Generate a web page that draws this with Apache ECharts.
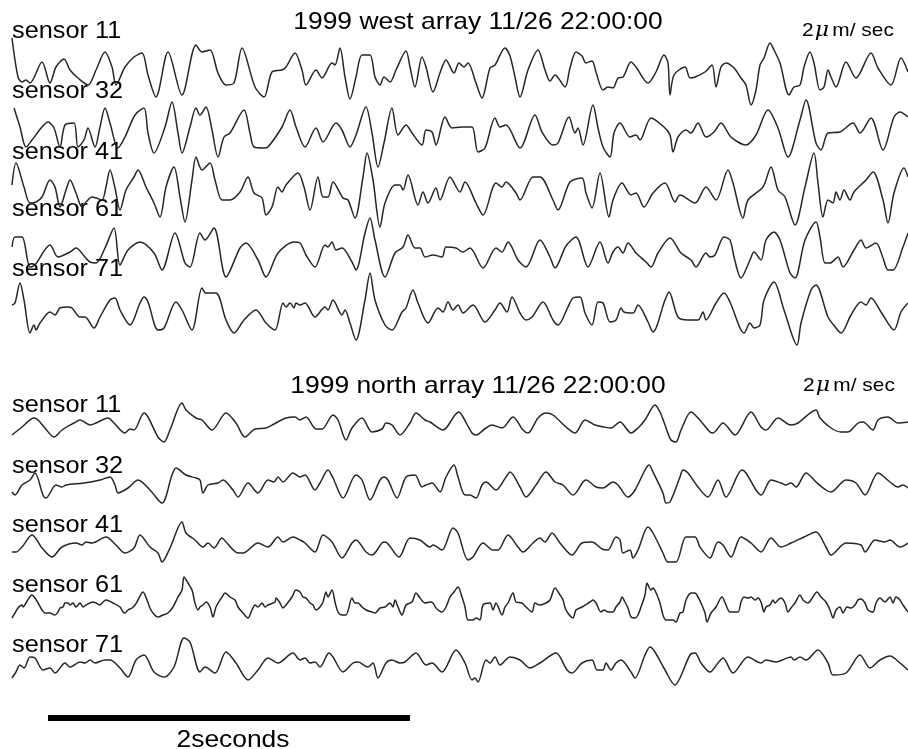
<!DOCTYPE html>
<html>
<head>
<meta charset="utf-8">
<script src="https://cdn.jsdelivr.net/npm/echarts@6/dist/echarts.min.js"></script>
<style>
  html, body { margin: 0; padding: 0; background: #ffffff; }
  #chart { width: 908px; height: 749px; }
</style>
</head>
<body>
<div id="chart"></div>
<script>
// Velocity seismograms, 1999-11-26 22:00:00, two sensor arrays.
// Each record: [sample index, velocity amplitude]; sample rate below.
const SAMPLE_RATE = 90.5;          // samples per second
const RECORD_SAMPLES = 454;        // samples shown per record
const SCALE_BAR_START = 24;        // sample where the time bar starts
const SCALE_BAR_SECONDS = 2;

const sensorNames = ['sensor 11', 'sensor 32', 'sensor 41', 'sensor 61', 'sensor 71'];
const arrayTitles = ['1999 west array 11/26 22:00:00', '1999 north array 11/26 22:00:00'];
const ampUnit = ['2', 'μ', 'm/ sec'];

// ---- west array ----
const west11 = [[6,34],[9,-5],[11,-10],[13,-8],[15,-11],[21,10],[25,-11],[28,5],[32,13],[35,2],[39,-6],[44,-13],[48,2],[52.5,20],[56,5],[58,-13],[62.5,5],[67,15],[71,19],[74,-3],[78,-25],[84,20],[91,-23],[98,27],[101,20],[105,22],[109,-1],[113,-13],[117,-11],[121,24],[127.5,-15],[132,-25],[136,0],[141,2],[143,5],[147.5,19],
[151,2],[153,-13],[158,2],[161,-6],[166,9],[167.5,7],[170,24],[172.5,-5],[175,-27],[178,-5],[181,17],[185,17],[187.5,-5],[190,-13],[192,-5],[195,-10],[198,2],[203,21],[205,5],[207.5,-15],[211,15],[213,5],[216.5,-20],[220,-1],[223,12],[227,-1],[229.5,9],[232,5],[234,9],[238,-11],[241,-26],[245,4],[247.5,7],[252.5,24],[255,16],[257.5,-5],[260,-25],[264,2],[269,22],[272.5,2],[275,-9],[277.5,-3],[282.5,-15],[285,4],[288,20],[291,16],[293,9],[296,11],[298,0],
[301.5,-18],[304,-15],[306.5,-16],[309,-6],[311.5,-5],[315.5,10],[318,5],[324,-11],[328,0],[332,17],[334,9],[335,-23],[337,-3],[342.5,5],[345,-6],[347.5,-5],[352.5,0],[356,7],[358,-15],[360.5,5],[363,9],[367,4],[370.5,-6],[373,-13],[375.5,-33],[378,-18],[380,7],[382,14],[385,29],[387,22],[390,9],[394.5,-23],[397,-15],[400,-13],[402,5],[405,20],[407,9],[410,-18],[412,-15],[414,2],[415.5,-5],[418,-15],[423,10],[428,-6],[435.5,19],[439,4],[445.5,-13],[450.5,14],[454,0]];

const west32 = [[7,22],[10,3],[13,-17],[16,-10],[21,3],[24,8],[27,2],[30,-17],[32.5,5],[37,7],[39,-17],[42,-10],[44,2],[47.5,-17],[50,3],[52.5,22],[55,7],[59,-18],[62.5,-7],[67.5,15],[72,22],[74,-3],[77,-23],[82.5,3],[86,28],[89,-3],[91,-23],[95,3],[98,22],[100,15],[103,23],[106,0],[109,-27],[112,-7],[115,-3],[122,20],[125,-3],[127,-17],[132,-18],[134,-17],[141,3],[145,20],[148,3],
[152.5,-17],[158,2],[161.5,-12],[168,7],[171,0],[175,-17],[178,-5],[183,23],[186,-3],[189,-37],[192,-13],[196,22],[199,-5],[203,5],[206,-3],[211,-15],[213,0],[216,-2],[218,-15],[222.5,13],[226,2],[231,3],[236,3],[239,-22],[242.5,-18],[247.5,12],[250,3],[253,5],[260,-18],[267.5,15],[271,-2],[276.5,-15],[279,-13],[284.5,13],[287.5,-3],[289,2],[291.5,-15],[296.5,25],[299,2],
[301.5,-17],[305,-27],[307,-3],[310,7],[315,-7],[318,-5],[320,-10],[325.5,12],[332,3],[335,-5],[336.5,-22],[339,-7],[343,0],[345.5,-3],[349,7],[353,-7],[357,-2],[360.5,7],[365.5,-7],[373,-15],[378,-5],[384,20],[389,2],[394,-27],[400,10],[403,30],[408,-13],[410.5,-20],[414,-3],[420,-2],[426.5,7],[430,-3],[435.5,12],[441.5,-20],[447,13],[450,18],[454,13]];

const west41 = [[6,3],[8,25],[12,1],[15,-15],[18,-14],[21,-9],[25,8],[27.5,1],[30,-19],[33,-2],[35,8],[38,-5],[41,-19],[43,-14],[46,-9],[48,-10],[51,-12],[53,1],[55,18],[57.5,0],[60,-22],[63,-2],[67,11],[69,18],[73,1],[77,-15],[80,-29],[83,1],[87,21],[90,-9],[92.5,-34],[96,8],[98,31],[101,18],[105,25],[107.5,8],[111,-12],[115,-12],[120,-4],[124,11],[127,-5],[131,-10],[133,-27],[136,-19],[139,1],[141,-4],[143,3],[149,15],
[152,1],[155,-22],[159,11],[161.5,-9],[164,-9],[166.5,6],[171.5,-10],[174,-12],[177.5,-30],[181.5,11],[183.5,35],[186.5,8],[190,-39],[192.5,-15],[197.5,3],[200,3],[201.5,-2],[204,13],[209,-17],[211.5,-4],[214,-15],[218,0],[220,-12],[225,11],[230,-4],[232.5,6],[238,-15],[241.5,-27],[248,5],[251,1],[253,6],[258,-5],[260,-12],[266.5,11],[270,11],[276.5,-12],[279,-22],[285,6],[291,10],[293,-5],[296,-20],[300,15],
[304.5,-29],[306.5,-12],[311,5],[315.5,-7],[318,-5],[322,-19],[326.5,-5],[332.5,5],[337.5,-14],[340,-7],[347.5,-15],[353,1],[358,-12],[364,18],[366.5,5],[371.5,-30],[374,-12],[381.5,1],[385.5,21],[389,-2],[392.5,-9],[397.5,-37],[402.5,1],[407,35],[409,5],[411.5,-29],[414,-12],[416.5,-15],[418,-4],[420,-12],[422,-2],[425,-12],[427,-4],[433,8],[436.5,16],[441.5,-12],[444,-35],[447,-5],[452,20],[454,11]];

const west61 = [[6,-1],[7.5,9],[11,9],[15,-21],[17.5,-19],[25,1],[29,-11],[35,-6],[38,-2],[42.5,-11],[45,-16],[48,-17],[52.5,-2],[57,18],[60,-19],[64,-4],[70,4],[77,-7],[81,-24],[87.5,13],[92.5,-17],[95,-21],[100,13],[102.5,6],[107,18],[113,-31],[120,-2],[123,3],[129,-14],[133,-31],[139,-7],[147,4],
[150,3],[153,-9],[157.5,-21],[162.5,1],[164,-1],[166,4],[168,-4],[171,-2],[176,-16],[178,-24],[182.5,13],[185,28],[187.5,6],[192.5,-31],[197.5,-7],[201.5,-1],[204,11],[207.5,-2],[210,-2],[212.5,-11],[216.5,-9],[221,-11],[223,-1],[228,-2],[231.5,-6],[235,-2],[241.5,-22],[248,-2],[251,-6],[254,4],[259,-14],[263,-21],[270,6],[275,-11],[277.5,-22],[283,0],[288,9],[294,-21],[300,4],
[304,-17],[306.5,-6],[309,-1],[311.5,-7],[314,3],[318,-7],[323,-16],[325.5,-21],[329,-7],[335,8],[340.5,-7],[345.5,-14],[348,-21],[353,-7],[355,-11],[357.5,-9],[362,9],[365,6],[367,-11],[370.5,-32],[375,-14],[377,-6],[380.5,-14],[383,6],[387,14],[390,6],[395,-27],[397.5,-32],[402.5,6],[408,24],[410,9],[412.5,-17],[415,-17],[419,-11],[421.5,-21],[427,-4],[430.5,6],[433,-2],[438,3],[441.5,-12],[444,-24],[446.5,-24],[451.5,-1],[454,13]];

const west71 = [[6,0],[7.5,2],[10,22],[12,5],[15,-28],[17,-20],[18,-25],[20,-18],[25,-7],[27.5,-10],[30,-3],[34,-2],[36,-3],[40,-12],[42.5,-12],[47,-23],[50,-12],[55,5],[57.5,7],[60,-5],[65,-20],[70,2],[72,8],[74,3],[79,-25],[82,-23],[88,3],[91,-5],[96,-25],[101,17],[103,12],[108,12],[113,-15],[117,-28],[122,-15],[128,-5],[133,-18],[137.5,-25],[141.5,2],[143,-2],[145,2],[147,-3],[148,2],
[150,0],[152.5,2],[157.5,-12],[162.5,-2],[164,-5],[166.5,5],[171,-10],[172.5,-5],[175,-18],[178,-35],[182.5,5],[185,32],[187.5,5],[192.5,-20],[196,-25],[201,-7],[203,-3],[206.5,15],[209,2],[214,-18],[219,-3],[221.5,-7],[224,3],[226.5,-5],[229,0],[231.5,-8],[236.5,0],[242.5,-17],[247.5,-5],[250,2],[253.5,-7],[256,8],[260,-8],[263,-15],[266,-12],[271.5,3],[276.5,-15],[279,-20],[284,-2],[286.5,7],[290,8],[292.5,-8],[296,-20],
[299,3],[301.5,2],[305,-17],[308,-15],[310.5,-3],[312,-7],[316.5,-8],[319,0],[324,-17],[326.5,-27],[332.5,5],[334.5,13],[339,-12],[344,-15],[349,-15],[351.5,-7],[353,-15],[358,2],[362,12],[365,3],[370,-23],[372,-28],[375,-18],[377,-23],[380,-20],[382,5],[387,23],[392,-5],[398.5,-40],[400.5,-18],[405.5,15],[408,20],[414,-12],[418,-23],[420.5,-28],[425.5,-10],[430.5,3],[433,0],[435.5,7],[440.5,-7],[447,-25],[450.5,-7],[454,2]];

// ---- north array ----
const north11 = [[6,-7],[11,1],[17,10],[19,8],[22.5,0],[27,-9],[31,-2],[37,5],[40,8],[45,3],[48,5],[54,10],[57,5],[62.5,-5],[65,-1],[67,-2],[72,15],[74,11],[79,-9],[82,-14],[85,-2],[91,25],[93,18],[98,10],[101,8],[106,-2],[113,15],[118,5],[122.5,-9],[127.5,-1],[133,0],[137,4],[143,10],[147.5,11],
[150,8],[153,11],[158,-1],[161,-1],[166.5,13],[169,8],[173,-12],[176,0],[181,10],[186,-4],[191,-1],[193,5],[196,3],[200,-7],[205,5],[208,15],[212.5,8],[215,6],[221.5,-2],[227.5,13],[229.5,16],[231.5,11],[236,-5],[238,-7],[243,0],[246,3],[251,0],[256.5,11],[261.5,-2],[264,-5],[269,10],[273,15],[276.5,13],[283,1],[287.5,-5],[292.5,8],[297.5,3],
[302,1],[305.5,0],[310,6],[315.5,-5],[319,0],[322.5,8],[327.5,23],[330,16],[332.5,3],[335.5,-12],[338,-14],[340.5,-2],[345.5,16],[349,10],[355,-4],[356.5,-5],[361.5,5],[367.5,-7],[375.5,16],[380.5,1],[383,-2],[389,10],[395.5,3],[399,5],[408,18],[410,10],[415.5,0],[420.5,-4],[424,-4],[429,5],[431.5,6],[436.5,-2],[439,8],[444,11],[449,5],[454,6]];

const north32 = [[6,-5],[7.5,-8],[11,2],[15,7],[17.5,14],[21.5,-8],[23,-11],[28,2],[31,0],[33,2],[42,4],[50,7],[55,10],[57.5,2],[59,-6],[64,-1],[69,7],[75,-3],[81,-16],[86,12],[88,19],[93,12],[98,9],[100,7],[101.5,-6],[104,2],[109,4],[111.5,7],[116.5,-3],[119,-10],[124,4],[129,-6],[134,7],[137,5],[139,10],[141.5,5],[146.5,14],
[150,10],[152.5,12],[157.5,-3],[160,4],[164,17],[166.5,9],[171.5,-11],[176.5,9],[178,12],[181,7],[185,-13],[190,7],[192,10],[194,7],[198.5,-11],[203,10],[207.5,12],[211,0],[213,2],[216,4],[220,-5],[223,10],[227,22],[229,10],[232.5,-8],[235,-8],[238,-11],[241,2],[243,5],[248,-3],[253,10],[255,15],[260,0],[263,-10],[268,2],[273,15],[277.5,5],[281.5,2],[286.5,-8],[291.5,5],[293,7],[298,0],
[301.5,-1],[306.5,5],[309,2],[314,-10],[317.5,-3],[322.5,17],[324.5,22],[326.5,15],[331.5,-6],[333,-16],[335,-15],[340,10],[341.5,17],[344,14],[349,0],[354,-10],[359,7],[363,-10],[371,17],[373,14],[378,-3],[380.5,-8],[385.5,7],[390.5,4],[393,2],[395.5,4],[398,0],[403,14],[408,5],[413,-3],[415.5,-5],[423,7],[428,4],[432.5,-8],[439,14],[445,5],[449,0],[451.5,2],[454,-1]];

const north41 = [[6,-7],[8,-7],[11,-2],[16,10],[21,-3],[26,-12],[31,-2],[38,2],[41,0],[43,3],[46,2],[53,8],[58,0],[62.5,-8],[67,-3],[70,10],[75,-2],[79,-8],[81,-17],[85,-3],[91,23],[93,12],[97.5,5],[101.5,-2],[104,2],[107,-3],[111,7],[113,3],[119,-8],[121.5,-8],[129,2],[134,-2],[139,8],[141.5,3],[146.5,8],
[150,5],[152.5,2],[157.5,-7],[161.5,10],[166,3],[171,-13],[176,2],[178,5],[183,-7],[186,-10],[191,2],[192.5,3],[199.5,-12],[205,7],[210,5],[215,-2],[216.5,0],[221,-5],[226.5,17],[229,12],[234,-15],[236.5,-12],[241.5,2],[246.5,-5],[249,-5],[254,10],[259,-2],[261.5,-7],[266.5,2],[270,7],[272.5,3],[276,12],[280,2],[286,-10],[291,2],[296,3],
[301,-4],[304,-5],[308,8],[310,5],[311.5,-8],[315,-5],[316.5,-13],[319,-5],[324,18],[326.5,12],[331.5,-8],[334,-17],[338,-17],[343,8],[347.5,8],[350,-2],[355,-13],[359,3],[361.5,0],[365.5,-12],[370.5,8],[375.5,2],[380.5,-7],[385.5,7],[390.5,-2],[395.5,2],[402,8],[408,13],[413,-2],[415.5,-10],[423,2],[430.5,0],[432.5,-7],[437.5,5],[442.5,3],[445,5],[450,-2],[454,2]];

const north61 = [[6,-15],[7.5,-10],[9,-5],[11,-2],[11.5,-4],[13,0],[16,8],[17.5,5],[19,0],[21,-7],[22.5,-10],[25,-10],[27.5,-12],[29,-9],[30,-5],[31.5,-4],[32.5,0],[34,0],[35,-2],[36.5,0],[38,-4],[40,0],[41.5,-4],[43,-2],[46.5,1],[48,0],[50,-2],[51.5,1],[53,3],[56.5,0],[60,-4],[61.5,-9],[62.5,-10],[64,-7],[66,-5],[67.5,-2],[69,3],[71.5,11],[73.5,3],[75,-5],[76.5,-10],[79,-14],[81.5,-12],[84,-10],[86.5,-4],[89,6],[91,13],[92,26],[94,20],[96,13],[97.5,0],[99,-7],[100,-4],[101.5,-2],[103,1],[105,-4],[106.5,-14],[108,-4],[111,6],[112.5,10],[115,6],[117.5,3],[119,-4],[121.5,-10],[124,-15],[126,-7],[127.5,-2],[129,-4],[131,0],[132.5,-4],[134,-2],[137.5,1],[138,5],[140,0],[141.5,-5],[143,-2],[146,6],[148,13],
[150,11],[151.5,6],[153,5],[155,0],[156.5,-2],[158,-7],[160,-4],[161.5,1],[163,11],[164,6],[166,13],[167.5,1],[169,-9],[171,-12],[173,-12],[176,5],[177.5,0],[179,0],[181,-4],[183,-7],[186,-9],[187.5,-10],[190,-5],[192.5,-4],[195,0],[196.5,-4],[197.5,3],[199,-4],[201,-12],[203,-2],[206,1],[208,10],[210,5],[212.5,0],[215,1],[216.5,0],[218,-5],[221,-9],[223,-4],[225,6],[227,11],[229,16],[231,6],[232.5,-4],[234,-17],[236.5,-17],[238,-15],[240,-17],[241.5,-2],[245,0],[246.5,-7],[248,0],[251,-12],[252.5,-4],[254,0],[256.5,10],[258,1],[261,0],[263,-4],[266,-9],[267.5,0],[270,-2],[273,0],[275,3],[277.5,15],[280,8],[281.5,3],[283,-7],[286.5,-15],[288,-7],[291,-4],[295,1],[296.5,3],[298,0],
[300.5,-9],[302,-7],[304,-9],[306.5,-9],[308,-4],[310,1],[311,6],[312.5,1],[314,-5],[315.5,-14],[317.5,-15],[319,-12],[320.5,-4],[322.5,8],[323.5,20],[325.5,13],[326.5,15],[328.5,8],[330,0],[331.5,-12],[333,-17],[336.5,-17],[338,-19],[340,-10],[341.5,-9],[343,3],[345.5,10],[347.5,10],[349,6],[350.5,0],[352.5,-10],[353.5,-19],[355.5,-10],[358,-4],[361,6],[363,-2],[365,-9],[369,-9],[370.5,1],[372,6],[374,5],[375.5,6],[377.5,3],[379,5],[380.5,1],[382,-9],[383,-4],[385,-2],[386.5,3],[387.5,0],[389,3],[390.5,5],[392.5,0],[394,-9],[395.5,-5],[397.5,0],[400,8],[401.5,3],[404,0],[405.5,3],[408.5,11],[410.5,6],[413,1],[415,-7],[416.5,-15],[418,-7],[420,-4],[421.5,-10],[423.5,-4],[425.5,-5],[427.5,-2],[429,3],[430.5,4],[432.5,0],[434,-7],[436.5,-9],[438,0],[440,5],[442.5,1],[445,6],[446.5,0],[448,6],[450,3],[451.5,-2],[454,-9]];

const north71 = [[6,-16],[8,-10],[10,-3],[12,-6],[15,5],[17.5,4],[21.5,-8],[25,-6],[27.5,-11],[32.5,-1],[35,-5],[40,0],[42.5,-1],[45,2],[47.5,-1],[52.5,2],[55,2],[60,-6],[64,-15],[68,2],[72,7],[77,-10],[82,-15],[87,-5],[92,24],[95,20],[100,-10],[102.5,-5],[107.5,-11],[113,10],[118,-1],[124,-18],[129,-8],[134,4],[139,-1],[146.5,9],
[150,2],[152.5,4],[155,-1],[157.5,0],[160,-5],[164.5,9],[166.5,5],[171.5,-10],[176.5,-1],[179,0],[184,-5],[186.5,-1],[189,-16],[193,-1],[196,2],[200,-1],[202.5,0],[208,9],[213,-3],[216,-1],[221,-10],[228,12],[232.5,-1],[236,-18],[237.5,-16],[239,-20],[243,2],[245,-1],[247.5,5],[250,-3],[255,5],[260,2],[265,-6],[270,-1],[278,9],[283.5,-8],[286,-11],[291,-1],[296,2],[298.5,-8],
[301.5,-8],[303,-1],[305.5,-8],[308,-1],[310.5,2],[315.5,-10],[317.5,-16],[322.5,7],[325,15],[327.5,10],[332.5,-8],[337.5,-23],[340,-16],[345,7],[347.5,9],[350.5,-1],[355,-10],[359,-1],[361.5,4],[366.5,-11],[374,5],[380.5,-1],[383,2],[388,0],[395.5,5],[397,2],[400,5],[403,2],[409,12],[414,-1],[416.5,-13],[423,-11],[430,7],[435,-6],[440,2],[445,6],[450,-1],[454,-8]];

const westRecords = [west11, west32, west41, west61, west71];
const northRecords = [north11, north32, north41, north61, north71];

// ---- layout ----
const W = 908;
const AMP_RANGE = 60;                          // half height of each record strip (amplitude units)
const westZero = [72, 130, 188, 246, 305];     // y of each record's zero line
const northZero = [428, 487, 545, 603, 662];
const westLabelY = [32, 92, 153, 210, 270];
const northLabelY = [406, 467, 526, 586, 646];
const FONT = '"Liberation Sans", Arial, Helvetica, sans-serif';
const STRETCH = 1.1;
const INK = '#262626';

const grids = [], xAxes = [], yAxes = [], series = [];
function addStrip(zeroY, data, name) {
  const idx = grids.length;
  grids.push({ left: 0, width: W, top: zeroY - AMP_RANGE, height: AMP_RANGE * 2, show: false });
  xAxes.push({ type: 'value', gridIndex: idx, min: 0, max: RECORD_SAMPLES, show: false });
  yAxes.push({ type: 'value', gridIndex: idx, min: -AMP_RANGE, max: AMP_RANGE, show: false });
  series.push({
    name: name, type: 'line', xAxisIndex: idx, yAxisIndex: idx,
    data: data, showSymbol: false, smooth: 0.3, clip: false,
    lineStyle: { color: INK, width: 1.5 }, silent: true
  });
}
westRecords.forEach((d, i) => addStrip(westZero[i], d, 'west ' + sensorNames[i]));
northRecords.forEach((d, i) => addStrip(northZero[i], d, 'north ' + sensorNames[i]));

// two-second time bar, on its own strip sharing the sample scale
(function () {
  const idx = grids.length;
  grids.push({ left: 0, width: W, top: 708, height: 20, show: false });
  xAxes.push({ type: 'value', gridIndex: idx, min: 0, max: RECORD_SAMPLES, show: false });
  yAxes.push({ type: 'value', gridIndex: idx, min: -1, max: 1, show: false });
  series.push({
    name: 'time bar', type: 'line', xAxisIndex: idx, yAxisIndex: idx,
    data: [[SCALE_BAR_START, 0], [SCALE_BAR_START + SCALE_BAR_SECONDS * SAMPLE_RATE, 0]],
    showSymbol: false, silent: true,
    lineStyle: { color: '#000', width: 6, cap: 'butt' }
  });
})();

function txt(x, y, text, size, align) {
  return {
    type: 'text', x: x, y: y, scaleX: STRETCH, scaleY: 1, silent: true,
    style: { text: text, fontSize: size, fontFamily: FONT, fill: '#000',
             align: align || 'left', verticalAlign: 'middle' }
  };
}
function unitLabel(x, y) {
  return {
    type: 'text', x: x, y: y, scaleX: STRETCH, scaleY: 1, silent: true,
    style: {
      text: '{n|' + ampUnit[0] + '}{g|' + ampUnit[1] + '}{n|' + ampUnit[2] + '}',
      fontFamily: FONT, fill: '#000', align: 'left', verticalAlign: 'middle',
      rich: {
        n: { fontSize: 19, fontFamily: FONT, fill: '#000' },
        g: { fontSize: 20, fontStyle: 'italic', fontFamily: '"DejaVu Serif", serif', fill: '#000', padding: [0, 3, 0, 1] }
      }
    }
  };
}

const graphics = [];
sensorNames.forEach((s, i) => graphics.push(txt(12, westLabelY[i], s, 23)));
sensorNames.forEach((s, i) => graphics.push(txt(12, northLabelY[i], s, 23)));
graphics.push(txt(478, 22, arrayTitles[0], 24, 'center'));
graphics.push(txt(478, 386, arrayTitles[1], 24, 'center'));
graphics.push(unitLabel(802, 31));
graphics.push(unitLabel(803, 386));
graphics.push(txt(233, 740, SCALE_BAR_SECONDS + 'seconds', 24, 'center'));

const chart = echarts.init(document.getElementById('chart'), null, { renderer: 'canvas' });
chart.setOption({
  animation: false,
  backgroundColor: '#ffffff',
  grid: grids,
  xAxis: xAxes,
  yAxis: yAxes,
  series: series,
  graphic: { elements: graphics }
});
</script>
</body>
</html>
